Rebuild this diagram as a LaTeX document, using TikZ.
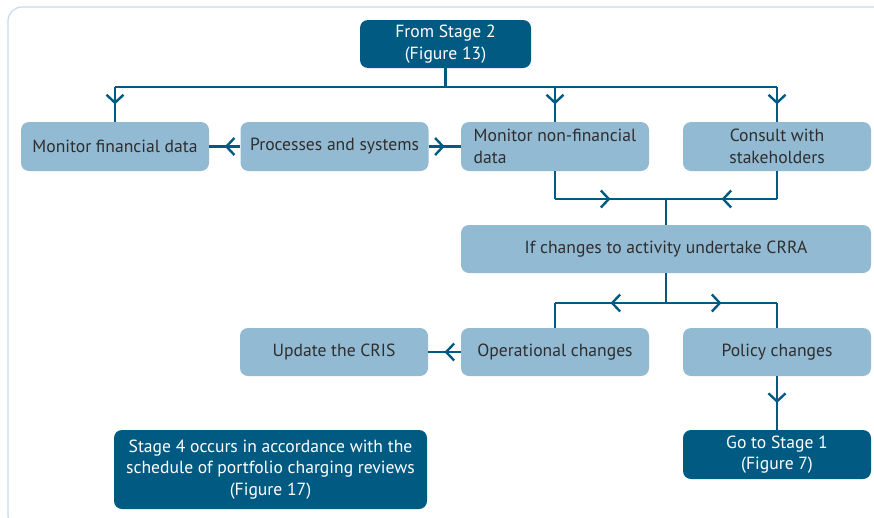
\documentclass[tikz,border=0pt]{standalone}
\usepackage{fontspec}
\setmainfont{PT Sans}
\usetikzlibrary{arrows.meta,decorations.markings}
\definecolor{darkblue}{HTML}{005A82}
\definecolor{lightblue}{HTML}{93BAD3}
\definecolor{framegray}{HTML}{C8DAE8}
\definecolor{textgray}{HTML}{2E2E2E}
\tikzset{
  lightbox/.style={fill=lightblue, rounded corners=8pt, text=textgray,
    minimum width=188pt, minimum height=49pt, align=center, inner sep=0pt,
    font=\fontsize{17.6}{21.5}\selectfont},
  darkbox/.style={lightbox, fill=darkblue, text=white},
  link/.style={draw=darkblue, line width=2.6pt},
  flow/.style={link, postaction={decorate}, decoration={markings,
    mark=at position 0.5 with {\arrow{Straight Barb[length=8pt,width=17pt,line width=2.4pt]}}}}
}

\begin{document}
\begin{tikzpicture}[x=1pt,y=-1pt]
\useasboundingbox (0,0) rectangle (874,517);
\draw[framegray, line width=1.2pt, rounded corners=14pt] (8,7) rectangle (890,530);

% boxes
\node[darkbox, minimum width=171pt, minimum height=48pt] (stage2) at (445.5,44) {From Stage 2\\(Figure 13)};
\node[lightbox] (monfin) at (115,146.5) {Monitor financial data};
\node[lightbox] (procsys) at (334.5,146.5) {Processes and systems};
\node[lightbox, align=left] (monnonfin) at (555,146.5) {Monitor non-financial\\data};
\node[lightbox] (consult) at (777,146.5) {Consult with\\stakeholders};
\node[lightbox, minimum width=410pt, minimum height=48pt] (crra) at (666,249) {If changes to activity undertake CRRA};
\node[lightbox, minimum height=48pt] (opchg) at (555,352) {Operational changes};
\node[lightbox, minimum height=48pt] (polchg) at (777,352) {Policy changes};
\node[lightbox, minimum height=48pt] (cris) at (334,352) {Update the CRIS};
\node[darkbox] (stage1) at (777,454.5) {Go to Stage 1\\(Figure 7)};
\node[darkbox, minimum width=313pt, minimum height=79pt] (stage4) at (270.5,469.5)
  {Stage 4 occurs in accordance with the\\schedule of portfolio charging reviews\\(Figure 17)};

% connectors
\coordinate (top) at (445.5,87);
\coordinate (join) at (666,199);
\coordinate (split) at (666,303);
\draw[link] (stage2.south) -- (top);
\draw[link] (monfin.north |- top) -- (consult.north |- top);
\draw[flow] (monfin.north |- top) -- (monfin.north);
\draw[flow] (monnonfin.north |- top) -- (monnonfin.north);
\draw[flow] (consult.north |- top) -- (consult.north);
\draw[flow] (procsys.west) -- (monfin.east);
\draw[flow] (procsys.east) -- (monnonfin.west);
\draw[link] (monnonfin.south) -- (monnonfin.south |- join);
\draw[flow] (monnonfin.south |- join) -- (join);
\draw[link] (consult.south) -- (consult.south |- join);
\draw[flow] (consult.south |- join) -- (join);
\draw[link] (join) -- (crra.north);
\draw[link] (crra.south) -- (split);
\draw[flow] (split) -- (opchg.north |- split);
\draw[link] (opchg.north |- split) -- (opchg.north);
\draw[flow] (split) -- (polchg.north |- split);
\draw[link] (polchg.north |- split) -- (polchg.north);
\draw[flow] (opchg.west) -- (cris.east);
\draw[flow] (polchg.south) -- (stage1.north);
\end{tikzpicture}
\end{document}
